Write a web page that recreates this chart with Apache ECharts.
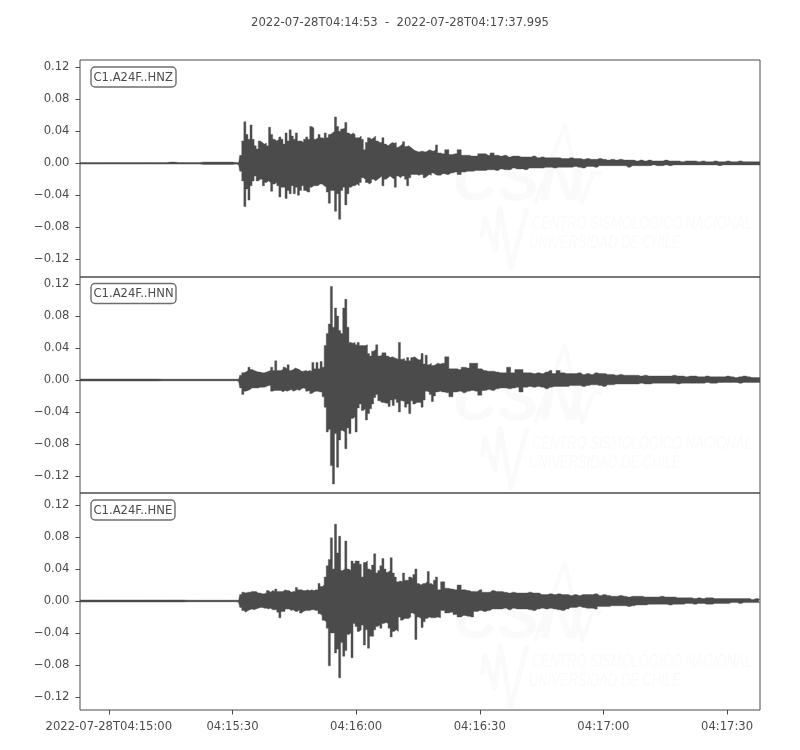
<!DOCTYPE html>
<html><head><meta charset="utf-8">
<script src="https://cdn.jsdelivr.net/npm/echarts@6/dist/echarts.min.js"></script>
<style>html,body{margin:0;padding:0;background:#fff}#c{width:800px;height:750px}</style>
</head><body><div id="c"></div>
<script>
const titleText = "2022-07-28T04:14:53  -  2022-07-28T04:17:37.995";
const traceNames = ["C1.A24F..HNZ", "C1.A24F..HNN", "C1.A24F..HNE"];
const xTicks = [0, 30, 60, 90, 120, 150];           // seconds after 04:15:00
const xTickLabels = ["2022-07-28T04:15:00", "04:15:30", "04:16:00", "04:16:30", "04:17:00", "04:17:30"];
const yTicks = [-0.12, -0.08, -0.04, 0, 0.04, 0.08, 0.12];
const yTickLabels = ["\u22120.12", "\u22120.08", "\u22120.04", "0.00", "0.04", "0.08", "0.12"];

// Envelope, in thousandths; "Up" above zero, "Dn" size below zero.
// Samples: every 2 s from -7 to 31, every 0.5 s from 31.5 to 80, every 1 s from 81 to 158.
const hnzUp = [
 1,1,1,1,1,1,1,1,1,1,1,1.5,1,1,1,1.5,1.5,1.5,1.5,1,
 1,10,28,52,36,30,48,30,22,18,
 28,26,24,25,22,45,36,30,28,30,
 33,30,24,38,28,42,34,30,38,28,
 28,26,30,33,30,46,44,30,32,36,
 32,31,38,32,36,38,40,58,46,40,
 43,44,51,38,36,38,36,32,32,34,
 30,17,26,32,30,32,34,28,26,26,
 32,24,22,24,26,25,26,20,22,24,
 27,21,22,20,18,16,15,14,15,15,
 14,15,17,16,15,17,23,13,
 12,17,11,12,17,10,10,9,9,12,
 12,10,13,10,9,10,8,9,9,8,
 8,8,9,7,8,7,7,7,7,6,
 6,7,6,6,5,6,5,5,6,5,
 4,5,4,5,4,4,4,3,4,3,
 4,3,3,3,4,3,3,3,2,3,
 3,3,2,3,2,2,3,2,2,3,
 2,2,3,2,2,2,2,2];
const hnzDn = [
 1,1,1,1,1,1,1,1,1,1,1,1,1,1,1,1.5,1.5,1.5,1.5,1,
 2,10,22,54,32,46,28,22,16,22,
 20,20,28,24,22,24,35,26,24,28,
 42,30,30,44,34,38,28,38,30,40,
 34,28,34,36,36,30,28,28,28,26,
 26,28,30,36,50,34,34,60,38,70,
 34,30,52,38,30,28,28,26,28,24,
 18,20,24,26,24,20,22,20,18,16,
 28,20,18,16,18,20,30,16,18,16,
 16,20,28,18,14,14,14,15,14,14,
 18,16,14,15,12,14,15,15,
 13,14,12,11,14,11,10,10,9,9,
 9,8,8,9,7,8,8,6,7,7,
 8,6,6,6,6,5,5,6,5,5,
 5,5,4,5,6,4,4,5,3,3,
 3,3,3,3,3,5,3,3,3,3,
 3,2,3,3,2,3,2,2,2,2,
 2,2,2,2,2,2,2,3,2,2,
 2,2,2,2,2,2,2,2];
const hnnUp = [
 1.3,1.3,1.3,1.3,1.3,1.3,1.3,1.3,1.3,1.3,1,1,1,1,1,1,1,1,1,1,
 1,6,9,10,12,16,13,12,11,10,
 10,9,9,10,11,12,16,12,24,12,
 12,13,16,14,19,12,13,15,14,13,
 11,11,12,11,12,11,22,14,22,14,
 23,16,43,58,70,117,66,90,80,62,
 58,90,101,66,47,46,47,44,47,43,
 43,43,44,33,30,36,38,44,30,31,
 34,34,30,28,29,28,27,26,47,26,
 27,24,28,24,28,29,27,25,26,33,
 20,31,19,21,18,19,21,20,
 21,29,14,14,13,16,15,21,21,14,
 12,11,11,10,9,9,16,9,13,13,
 9,9,8,9,8,10,12,8,12,9,
 8,8,8,9,7,8,7,9,8,8,
 7,7,6,7,6,6,6,6,5,6,
 5,5,5,5,5,5,6,5,5,4,
 5,5,4,4,5,4,4,4,4,5,
 4,3,4,5,4,3,3,3];
const hnnDn = [
 1.3,1.3,1.3,1.3,1.3,1.3,1.3,1.3,1.3,1.3,1,1,1,1,1,1,1,1,1,1,
 2,10,18,14,13,12,10,10,10,10,
 9,9,9,8,7,7,14,13,13,13,
 13,15,13,14,13,12,14,13,12,13,
 11,10,11,14,13,17,15,14,14,15,
 15,21,34,65,62,107,130,67,109,75,
 63,65,86,60,67,48,46,65,35,30,
 38,36,50,42,36,30,22,18,26,28,
 28,29,29,33,25,32,24,28,40,26,
 27,34,30,42,26,30,28,28,28,34,
 25,14,15,18,27,20,15,14,
 15,16,21,15,14,16,14,13,14,19,
 13,12,13,11,10,10,11,10,9,15,
 9,8,9,8,9,11,9,8,8,8,
 8,7,7,7,8,7,6,6,7,8,
 6,6,5,5,5,5,5,5,4,5,
 5,4,4,4,4,4,4,5,4,4,
 4,4,4,4,3,4,4,3,3,3,
 3,3,4,3,3,3,3,3];
const hneUp = [
 1.3,1.3,1.3,1.3,1.3,1.3,1.3,1.3,1.3,1.3,1.3,1.3,1.3,1,1,1,1,1,1,1,
 1,8,11,10,11,11,12,12,12,10,
 10,9,9,10,13,11,13,12,15,12,
 12,12,14,13,13,11,12,12,17,14,
 14,13,13,14,13,14,13,14,14,22,
 18,20,30,44,52,79,40,96,60,81,
 38,40,75,40,38,50,47,50,50,46,
 30,48,50,40,38,45,59,35,38,44,
 53,40,36,38,54,35,30,24,25,24,
 35,26,26,30,28,33,40,22,20,22,
 22,24,37,22,20,26,30,14,
 24,16,15,14,20,14,13,12,12,14,
 11,11,13,12,12,11,10,11,10,10,
 10,11,10,10,8,8,9,8,9,8,
 8,7,8,7,8,8,8,9,7,8,
 7,6,6,7,6,5,6,6,6,5,
 5,5,5,6,5,5,5,4,4,4,
 4,3,4,3,4,4,3,3,3,3,
 3,3,3,3,3,2,3,2];
const hneDn = [
 1.3,1.3,1.3,1.3,1.3,1.3,1.3,1.3,1.3,1.3,1.3,1.3,1.3,1,1,1,1,1,1,1,
 2,8,12,14,12,11,10,11,10,9,
 8,8,9,9,10,9,11,11,11,14,
 21,13,13,10,10,12,11,13,13,11,
 15,13,12,12,12,11,11,12,12,16,
 18,24,26,34,81,40,40,65,60,96,
 52,69,62,42,40,71,28,32,38,36,
 30,55,36,59,44,44,36,32,30,34,
 28,27,28,34,45,38,36,38,20,24,
 22,22,22,20,15,17,48,20,22,33,
 26,22,20,21,21,21,20,21,
 12,15,14,17,20,18,19,20,13,12,
 13,12,10,10,10,9,11,9,10,10,
 10,11,12,10,9,10,9,10,11,12,
 10,8,8,7,8,9,9,10,7,7,
 7,6,6,6,6,7,6,5,5,5,
 4,4,4,4,4,5,4,4,4,3,
 3,4,3,3,4,4,3,3,3,3,
 2,2,3,2,2,2,2,2];

const sampleTimes = [];
for (let s = -7; s <= 31; s += 2) sampleTimes.push(s);
for (let s = 31.5; s <= 80; s += 0.5) sampleTimes.push(s);
for (let s = 81; s <= 157; s += 1) sampleTimes.push(s);
sampleTimes.push(157.995);

const ink = "#4b4b4b";
const faint = "#fafafa";
const panels = [
  {top: 60, height: 217, min: -0.1421, max: 0.1291, up: hnzUp, dn: hnzDn, boxTop: 67, lift: 0},
  {top: 277, height: 216, min: -0.14125, max: 0.12875, up: hnnUp, dn: hnnDn, boxTop: 283.5, lift: 220},
  {top: 493, height: 217, min: -0.13625, max: 0.135, up: hneUp, dn: hneDn, boxTop: 500, lift: 438}
];
const fontFamily = "DejaVu Sans";
const fontSize = 11.6;
const grids = [], xAxes = [], yAxes = [], series = [], titles = [], graphics = [];
titles.push({text: titleText, left: "center", top: 12, textStyle: {color: ink, fontSize, fontWeight: "normal", fontFamily}});
panels.forEach((p, i) => {
  grids.push({left: 80, right: 40, top: p.top, height: p.height, show: true, borderColor: ink, borderWidth: 1, backgroundColor: "transparent"});
  xAxes.push({
    type: "value", gridIndex: i, min: -7, max: 157.995, show: true,
    splitLine: {show: false},
    axisLine: {show: false, onZero: false},
    axisTick: {show: i === 2, length: 4.5, inside: false, customValues: xTicks, lineStyle: {color: ink, width: 1}},
    axisLabel: {show: i === 2, customValues: xTicks, margin: 11, color: ink, fontSize, fontFamily,
      formatter: v => xTickLabels[xTicks.indexOf(v)] || ""}
  });
  yAxes.push({
    type: "value", gridIndex: i, min: p.min, max: p.max,
    splitLine: {show: false},
    axisLine: {show: false, onZero: false},
    axisTick: {show: true, length: 4.5, customValues: yTicks, lineStyle: {color: ink, width: 1}},
    axisLabel: {show: true, customValues: yTicks, margin: 10.5, padding: [4, 0, 0, 0], color: ink, fontSize, fontFamily,
      formatter: v => yTickLabels[yTicks.findIndex(t => Math.abs(t - v) < 1e-6)] || ""}
  });
  const line = (name, vals, sign) => ({
    name, type: "line", xAxisIndex: i, yAxisIndex: i, showSymbol: false, animation: false, silent: true,
    sampling: "none", step: "middle", z: 3,
    lineStyle: {color: ink, width: 0.4},
    areaStyle: {color: ink, opacity: 1, origin: -sign * 0.0005},
    data: sampleTimes.map((t, k) => [t, sign * vals[k] / 1000])
  });
  series.push(line(traceNames[i] + " up", p.up, 1), line(traceNames[i] + " down", p.dn, -1));
  titles.push({text: traceNames[i], left: 90.5, top: p.boxTop, padding: [3.5, 3, 2.5, 3], borderColor: "#6e6e6e", borderWidth: 1.4, borderRadius: 4,
    backgroundColor: "#fff", textStyle: {color: ink, fontSize, fontWeight: "normal", fontFamily, lineHeight: 14}});
  const L = p.lift;
  graphics.push(
    {type: "text", z: 0, silent: true, style: {x: 453, y: 152 + L, text: "CSN", fill: faint, font: "italic bold 62px 'Liberation Sans'"}},
    {type: "polyline", z: 0, silent: true, shape: {points: [[535, 203 + L], [565, 125 + L], [582, 203 + L], [593, 173 + L], [602, 173 + L]]}, style: {stroke: faint, lineWidth: 4, lineJoin: "round", fill: null}},
    {type: "polyline", z: 0, silent: true, shape: {points: [[482, 237 + L], [485, 218 + L], [495, 250 + L], [500, 208 + L], [511, 268 + L], [527, 208 + L]]}, style: {stroke: faint, lineWidth: 5, lineJoin: "round", fill: null}},
    {type: "text", z: 0, silent: true, x: 532, y: 214 + L, scaleX: 0.68, style: {x: 0, y: 0, text: "CENTRO SISMOL\u00d3GICO NACIONAL", fill: faint, font: "italic 19px 'Liberation Sans'"}},
    {type: "text", z: 0, silent: true, x: 529, y: 233 + L, scaleX: 0.68, style: {x: 0, y: 0, text: "UNIVERSIDAD DE CHILE", fill: faint, font: "italic 19px 'Liberation Sans'"}}
  );
});
const chart = echarts.init(document.getElementById("c"), null, {renderer: "canvas"});
chart.setOption({
  animation: false, backgroundColor: "#fff", tooltip: {show: false}, legend: {show: false},
  title: titles, grid: grids, xAxis: xAxes, yAxis: yAxes, series, graphic: graphics
});
</script></body></html>
